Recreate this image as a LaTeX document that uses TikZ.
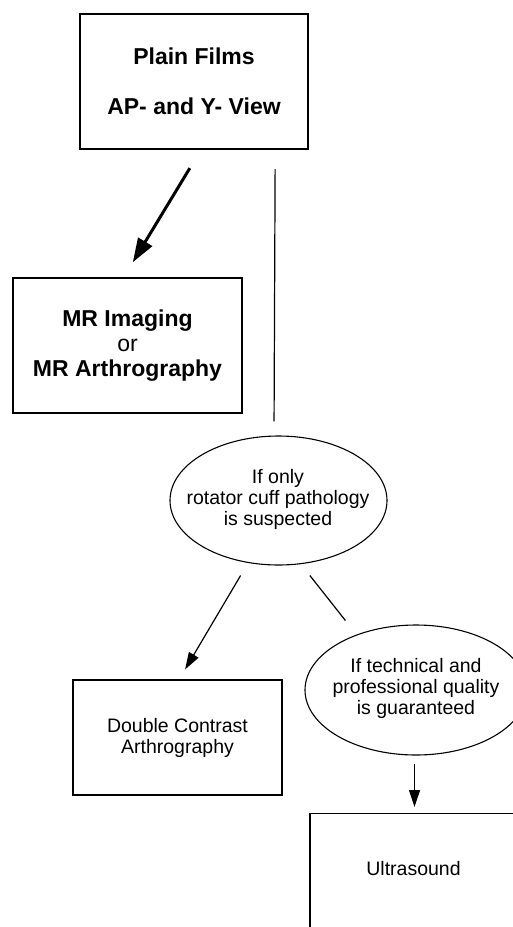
\documentclass[tikz,border=0pt]{standalone}
\usepackage{fontspec}
\setmainfont{Liberation Sans}
\usetikzlibrary{arrows.meta,calc,shapes.geometric}
\begin{document}
\begin{tikzpicture}[x=1pt,y=-1pt,
  thickbox/.style={draw, rectangle, line width=2.4pt, inner sep=0pt, align=center,
    font=\fontsize{23}{25}\selectfont\bfseries},
  thinbox/.style={draw, rectangle, line width=1.2pt, inner sep=0pt, align=center,
    font=\fontsize{19.5}{21}\selectfont},
  oval/.style={draw, ellipse, line width=1.1pt, inner sep=0pt},
  txt/.style={inner sep=0pt, align=center, font=\fontsize{19.5}{21}\selectfont},
  bigarrow/.style={line width=3pt, -{Triangle[length=24pt,width=16pt]}},
  arrowline/.style={line width=1.2pt, -{Triangle[length=17pt,width=11pt]}},
  plainline/.style={line width=1.2pt}]
\fill[white] (0,0) rectangle (513,927);
\clip (0,0) rectangle (513,927);

\node[thickbox, minimum width=228pt, minimum height=135pt] (pf) at (194,81.5)
  {Plain Films\\[25pt]AP- and Y- View};
\node[thickbox, minimum width=229pt, minimum height=135pt] (mr) at (127.5,345.5)
  {MR Imaging\\{\mdseries or}\\MR Arthrography};
\node[oval, minimum width=217pt, minimum height=129pt] (e1) at (278.5,500.5) {};
\node[txt] (e1t) at (278,499) {If only\\rotator cuff pathology\\is suspected};
\node[thinbox, minimum width=209pt, minimum height=115pt] (dc) at (177.5,737.5)
  {Double Contrast\\Arthrography};
\node[oval, minimum width=222pt, minimum height=130pt] (e2) at (416,690) {};
\node[txt] (e2t) at (416,688) {If technical and\\professional quality\\is guaranteed};
\node[thinbox, anchor=north, minimum width=209pt, minimum height=160pt] (us) at (414.5,813) {};
\node[txt] (ust) at (413.5,869) {Ultrasound};

\draw[bigarrow, shorten <=21pt, shorten >=17pt] ($(pf.south)+(6.7,0)$) -- ($(mr.north)+(-3.5,0)$);
\draw[plainline, shorten <=19pt, shorten >=14pt] ($(pf.south east)+(-34,0)$) -- ($(e1.north)+(-4.5,0)$);
\draw[arrowline, shorten <=11.6pt, shorten >=11.6pt] ($(e1.south)+(-32,0)$) -- ($(dc.north)+(1.7,0)$);
\draw[plainline, shorten <=12.7pt, shorten >=20.3pt] ($(e1.south)+(23.5,0)$) -- ($(e2.north)+(-58,12)$);
\draw[arrowline, shorten <=8pt, shorten >=6pt] (us.north |- e2.south) -- (us.north);
\end{tikzpicture}
\end{document}
